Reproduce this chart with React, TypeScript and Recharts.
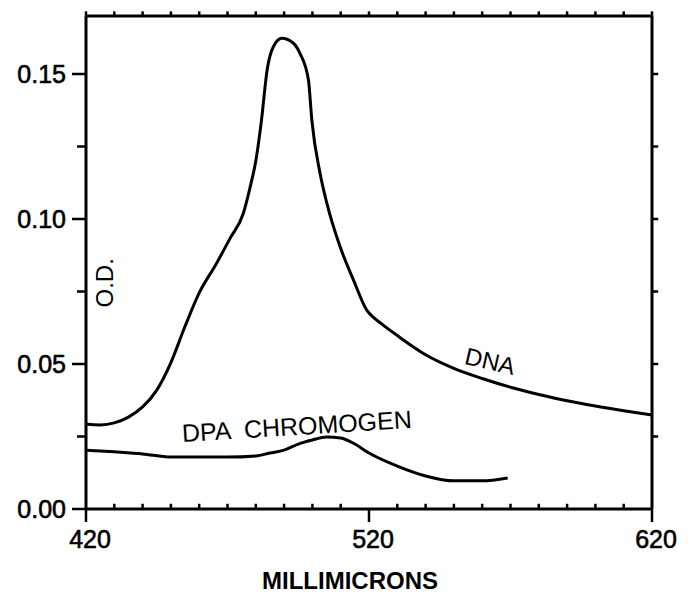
import {
  Label,
  Line,
  LineChart,
  ReferenceDot,
  ReferenceLine,
  XAxis,
  YAxis,
} from 'recharts';

// DNA absorbance (O.D.) against wavelength in millimicrons
const dnaNm = [
  420, 425, 430, 435, 440, 445, 450, 455, 460, 466, 471, 475.6, 478, 480, 482,
  484, 486.2, 489.2, 493.3, 495.6, 498.6, 499.8, 502.7, 505.1, 509.8, 514.5,
  519.2, 522, 525, 530, 540, 550, 560, 570, 580, 590, 600, 610, 620,
];
const dnaOd = [
  0.0293, 0.029, 0.0297, 0.0317, 0.0352, 0.041, 0.0505, 0.063, 0.0745, 0.0845,
  0.0935, 0.102, 0.111, 0.12, 0.134, 0.1514, 0.1594, 0.1623, 0.1606, 0.1571,
  0.1479, 0.1341, 0.1158, 0.1055, 0.0904, 0.079, 0.0686, 0.0657, 0.0634, 0.0598,
  0.0532, 0.0485, 0.045, 0.042, 0.0395, 0.0373, 0.0355, 0.0339, 0.0324,
];

// DPA chromogen blank
const dpaNm = [
  420, 430, 440, 450, 460, 470, 480, 485, 490, 495, 500, 505, 510, 515, 520, 530,
  540, 550, 560, 569,
];
const dpaOd = [
  0.0203, 0.0197, 0.019, 0.0179, 0.0179, 0.0179, 0.0183, 0.0193, 0.0203, 0.0224,
  0.0238, 0.0248, 0.0245, 0.0224, 0.0193, 0.0148, 0.0114, 0.0097, 0.0097, 0.0107,
];

const nmTicks = [
  420, 430, 440, 450, 460, 470, 480, 490, 500, 510, 520, 530, 540, 550, 560, 570,
  580, 590, 600, 610, 620,
];
const nmLabels = [420, 520, 620];
const odTicks = [0, 0.025, 0.05, 0.075, 0.1, 0.125, 0.15];
const odLabels = [0, 0.05, 0.1, 0.15];

const NM_MIN = 420;
const NM_MAX = 620;
const OD_MAX = 0.17;

const dnaData = dnaNm.map((nm, i) => ({ nm, od: dnaOd[i] }));
const dpaData = dpaNm.map((nm, i) => ({ nm, od: dpaOd[i] }));

const FONT = '"Liberation Sans", Arial, sans-serif';
const INK = '#000';

function BottomTick(props: any) {
  const { x, y, payload } = props;
  const v = payload.value;
  return (
    <g>
      <line x1={x} y1={y} x2={x} y2={y + 13} stroke={INK} strokeWidth={2.5} />
      <text
        x={x + 4}
        y={y + 39}
        textAnchor="middle"
        fontFamily={FONT}
        fontSize={25}
        fill={INK}
        stroke={INK}
        strokeWidth={0.6}
      >
        {v}
      </text>
    </g>
  );
}

function LeftTick(props: any) {
  const { x, y, payload } = props;
  const v = payload.value;
  const major = odLabels.includes(v);
  return (
    <g>
      <line x1={x} y1={y} x2={x - (major ? 14 : 9)} y2={y} stroke={INK} strokeWidth={2.5} />
      {major && (
        <text
          x={x - 20}
          y={y}
          dy="0.36em"
          textAnchor="end"
          fontFamily={FONT}
          fontSize={25}
          fill={INK}
          stroke={INK}
          strokeWidth={0.6}
        >
          {v.toFixed(2)}
        </text>
      )}
    </g>
  );
}

const annotate =
  (text: string, angle: number, size: number, anchor: 'start' | 'middle') =>
  (p: any) => (
    <text
      x={p.cx}
      y={p.cy}
      textAnchor={anchor}
      dominantBaseline="central"
      transform={`rotate(${angle} ${p.cx} ${p.cy})`}
      fontFamily={FONT}
      fontSize={size}
      fill={INK}
      style={{ whiteSpace: 'pre' }}
    >
      {text}
    </text>
  );

// short frame ticks: inward on the bottom edge, outward on top and right
const minorNm = nmTicks.filter((t) => !nmLabels.includes(t));
const tickStroke = { stroke: INK, strokeWidth: 2.5 };

export default function App() {
  const axisLine = { stroke: INK, strokeWidth: 3 };
  return (
    <div style={{ position: 'absolute', left: 0, top: 0, background: '#fff' }}>
      <LineChart
        width={688}
        height={596}
        margin={{ top: 15, right: 35, bottom: 47, left: 16 }}
      >
        <XAxis
          xAxisId="b"
          type="number"
          dataKey="nm"
          domain={[NM_MIN, NM_MAX]}
          ticks={nmLabels}
          interval={0}
          height={40}
          tickSize={0}
          tickMargin={0}
          tickLine={false}
          tick={BottomTick}
          axisLine={axisLine}
        >
          <Label
            content={() => (
              <text
                x={350}
                y={589}
                textAnchor="middle"
                fontFamily={FONT}
                fontSize={24}
                fontWeight="bold"
                fill={INK}
              >
                MILLIMICRONS
              </text>
            )}
          />
        </XAxis>
        <XAxis
          xAxisId="t"
          orientation="top"
          type="number"
          domain={[NM_MIN, NM_MAX]}
          height={1}
          tick={false}
          tickLine={false}
          axisLine={axisLine}
        />
        <YAxis
          yAxisId="l"
          type="number"
          domain={[0, OD_MAX]}
          ticks={odTicks}
          interval={0}
          width={70}
          tickSize={0}
          tickMargin={0}
          tickLine={false}
          tick={LeftTick}
          axisLine={axisLine}
        />
        <YAxis
          yAxisId="r"
          orientation="right"
          type="number"
          domain={[0, OD_MAX]}
          width={1}
          tick={false}
          tickLine={false}
          axisLine={axisLine}
        />
        {minorNm.map((t) => (
          <ReferenceLine
            key={`b${t}`}
            xAxisId="b"
            yAxisId="l"
            segment={[
              { x: t, y: 0 },
              { x: t, y: 0.0018 },
            ]}
            {...tickStroke}
          />
        ))}
        {nmTicks.map((t) => (
          <ReferenceLine
            key={`t${t}`}
            xAxisId="b"
            yAxisId="l"
            ifOverflow="visible"
            segment={[
              { x: t, y: OD_MAX },
              { x: t, y: OD_MAX + 0.0016 },
            ]}
            {...tickStroke}
          />
        ))}
        {odTicks
          .filter((v) => v > 0)
          .map((v) => (
            <ReferenceLine
              key={`r${v}`}
              xAxisId="b"
              yAxisId="l"
              ifOverflow="visible"
              segment={[
                { x: NM_MAX, y: v },
                { x: NM_MAX + 2.2, y: v },
              ]}
              {...tickStroke}
            />
          ))}
        <Line
          xAxisId="b"
          yAxisId="l"
          data={dnaData}
          dataKey="od"
          type="monotone"
          stroke={INK}
          strokeWidth={3}
          dot={false}
          isAnimationActive={false}
        />
        <Line
          xAxisId="b"
          yAxisId="l"
          data={dpaData}
          dataKey="od"
          type="monotone"
          stroke={INK}
          strokeWidth={3}
          dot={false}
          isAnimationActive={false}
        />
        <ReferenceDot
          xAxisId="b"
          yAxisId="l"
          x={426.5}
          y={0.078}
          r={0}
          shape={annotate('O.D.', -90, 24, 'middle')}
        />
        <ReferenceDot
          xAxisId="b"
          yAxisId="l"
          x={562.8}
          y={0.051}
          r={0}
          shape={annotate('DNA', 13, 24, 'middle')}
        />
        <ReferenceDot
          xAxisId="b"
          yAxisId="l"
          x={453.9}
          y={0.0262}
          r={0}
          shape={annotate('DPA  CHROMOGEN', -3.5, 25, 'start')}
        />
      </LineChart>
    </div>
  );
}
